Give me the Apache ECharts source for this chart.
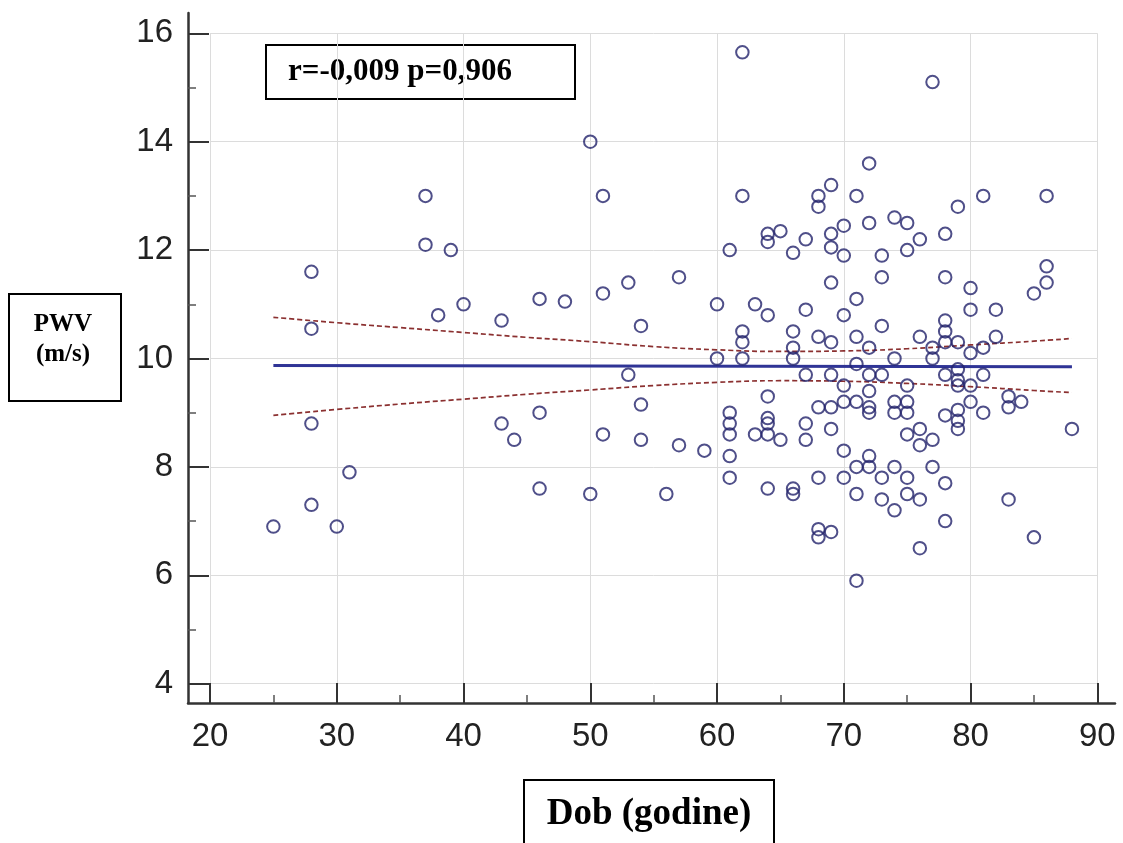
<!DOCTYPE html>
<html>
<head>
<meta charset="utf-8">
<script src="https://cdn.jsdelivr.net/npm/echarts@6/dist/echarts.min.js"></script>
<style>
html,body{margin:0;padding:0;background:#fff;}
#chart{width:1123px;height:843px;}
</style>
</head>
<body>
<div id="chart"></div>
<script>
// Age (Dob, years)
const ages = [
 25,28,30,31,28,28,28,37,37,39,38,40,43,43,44,46,46,46,48,50,50,51,51,51,53,53,54,54,54,56,
 57,57,59,60,60,61,61,61,61,61,61,62,62,62,62,62,63,63,64,64,64,64,64,64,64,64,65,65,
 66,66,66,66,66,66,67,67,67,67,67,68,68,68,68,68,68,68,69,69,69,69,69,69,69,69,69,
 70,70,70,70,70,70,70,
 71,71,71,71,71,71,71,71,
 72,72,72,72,72,72,72,72,72,
 73,73,73,73,73,73,
 74,74,74,74,74,74,
 75,75,75,75,75,75,75,75,
 76,76,76,76,76,76,
 77,77,77,77,77,
 78,78,78,78,78,78,78,78,78,
 79,79,79,79,79,79,79,79,
 80,80,80,80,80,
 81,81,81,81,
 82,82,
 83,83,83,
 84,
 85,85,
 86,86,86,
 88
];
// PWV (m/s)
const pwv = [
 6.9,7.3,6.9,7.9,8.8,10.55,11.6,13.0,12.1,12.0,10.8,11.0,10.7,8.8,8.5,11.1,9.0,7.6,11.05,14.0,7.5,13.0,11.2,8.6,11.4,9.7,10.6,9.15,8.5,7.5,
 11.5,8.4,8.3,11.0,10.0,12.0,9.0,8.8,8.6,8.2,7.8,15.65,13.0,10.5,10.3,10.0,11.0,8.6,12.3,12.15,10.8,9.3,8.9,8.8,8.6,7.6,12.35,8.5,
 11.95,10.5,10.2,10.0,7.6,7.5,12.2,10.9,9.7,8.8,8.5,13.0,12.8,10.4,9.1,7.8,6.85,6.7,13.2,12.3,12.05,11.4,10.3,9.7,9.1,8.7,6.8,
 12.45,11.9,10.8,9.5,9.2,8.3,7.8,
 13.0,11.1,10.4,9.9,9.2,8.0,7.5,5.9,
 13.6,12.5,10.2,9.7,9.4,9.1,9.0,8.2,8.0,
 11.9,11.5,10.6,9.7,7.8,7.4,
 12.6,10.0,9.2,9.0,8.0,7.2,
 12.5,12.0,9.5,9.2,9.0,8.6,7.8,7.5,
 12.2,10.4,8.7,8.4,7.4,6.5,
 15.1,10.2,10.0,8.5,8.0,
 12.3,11.5,10.7,10.5,10.3,9.7,8.95,7.7,7.0,
 12.8,10.3,9.8,9.6,9.5,9.05,8.85,8.7,
 11.3,10.9,10.1,9.5,9.2,
 13.0,10.2,9.7,9.0,
 10.9,10.4,
 9.3,9.1,7.4,
 9.2,
 11.2,6.7,
 13.0,11.7,11.4,
 8.7
];
// Regression line
const fitX = [25, 88];
const fitY = [9.87, 9.85];
// Confidence band
const bandX = [25,30,35,40,45,50,55,60,65,70,75,80,85,88];
const bandUpper = [10.76,10.66,10.57,10.48,10.39,10.31,10.22,10.16,10.13,10.14,10.18,10.25,10.32,10.37];
const bandLower = [8.95,9.06,9.16,9.25,9.34,9.42,9.50,9.56,9.59,9.58,9.54,9.48,9.41,9.37];

const xTicks = {min: 20, max: 90, interval: 10};
const yTicks = {min: 4, max: 16, interval: 2};
const statText = 'r=-0,009 p=0,906';
const yTitle = ['PWV', '(m/s)'];
const xTitle = 'Dob (godine)';

const zip = (a, b) => a.map((v, i) => [v, b[i]]);

const chart = echarts.init(document.getElementById('chart'));
const axisColor = '#333';
const labelFont = {color: '#222', fontSize: 33, fontFamily: 'Liberation Sans, Arial, sans-serif'};

chart.setOption({
  animation: false,
  backgroundColor: '#fff',
  grid: [
    {left: 210, right: 25.7, top: 33.3, bottom: 159.3, containLabel: false, outerBoundsMode: 'none'},
    {left: 188, right: 8, top: 13, bottom: 140, containLabel: false, outerBoundsMode: 'none'}
  ],
  xAxis: [
    {
      type: 'value', gridIndex: 0, position: 'bottom', offset: 19.3,
      min: xTicks.min, max: xTicks.max, interval: xTicks.interval,
      axisLine: {show: false},
      axisTick: {show: true, inside: true, length: 20, lineStyle: {color: axisColor, width: 2}},
      minorTick: {show: true, splitNumber: 2, length: 8, lineStyle: {color: '#555', width: 1.5}},
      axisLabel: Object.assign({margin: 17}, labelFont),
      splitLine: {show: true, lineStyle: {color: '#dcdcdc', width: 1}}
    },
    {
      type: 'value', gridIndex: 1, min: 0, max: 1,
      axisLine: {show: true, onZero: false, lineStyle: {color: axisColor, width: 2.5}},
      axisTick: {show: false}, axisLabel: {show: false}, splitLine: {show: false}
    }
  ],
  yAxis: [
    {
      type: 'value', gridIndex: 0, position: 'left', offset: 22,
      min: yTicks.min, max: yTicks.max, interval: yTicks.interval,
      axisLine: {show: false},
      axisTick: {show: true, inside: true, length: 21, lineStyle: {color: axisColor, width: 2}},
      minorTick: {show: true, splitNumber: 2, length: 8, lineStyle: {color: '#555', width: 1.5}},
      axisLabel: Object.assign({margin: 15}, labelFont),
      splitLine: {show: true, lineStyle: {color: '#dcdcdc', width: 1}}
    },
    {
      type: 'value', gridIndex: 1, min: 0, max: 1,
      axisLine: {show: true, onZero: false, lineStyle: {color: axisColor, width: 2.5}},
      axisTick: {show: false}, axisLabel: {show: false}, splitLine: {show: false}
    }
  ],
  series: [
    {
      type: 'line', xAxisIndex: 0, yAxisIndex: 0, data: zip(bandX, bandUpper),
      showSymbol: false, smooth: true, silent: true, z: 3,
      lineStyle: {color: '#8b3030', width: 1.7, type: [5, 3]}
    },
    {
      type: 'line', xAxisIndex: 0, yAxisIndex: 0, data: zip(bandX, bandLower),
      showSymbol: false, smooth: true, silent: true, z: 3,
      lineStyle: {color: '#8b3030', width: 1.7, type: [5, 3]}
    },
    {
      type: 'line', xAxisIndex: 0, yAxisIndex: 0, data: zip(fitX, fitY),
      showSymbol: false, silent: true, z: 3,
      lineStyle: {color: '#2f3496', width: 3}
    },
    {
      type: 'scatter', xAxisIndex: 0, yAxisIndex: 0, data: zip(ages, pwv),
      symbol: 'circle', symbolSize: 12.5, z: 4,
      itemStyle: {color: 'rgba(0,0,0,0)', borderColor: '#23236b', borderWidth: 2}
    }
  ],
  graphic: [
    {
      type: 'group', left: 265, top: 44, z: 100,
      children: [
        {type: 'rect', shape: {x: 0, y: 0, width: 309, height: 54}, style: {fill: '#fff', stroke: '#000', lineWidth: 2}},
        {type: 'text', x: 22, y: 27, style: {text: statText, fill: '#000', font: 'bold 31px "Liberation Serif", "Times New Roman", serif', verticalAlign: 'middle'}}
      ]
    },
    {
      type: 'group', left: 8, top: 293, z: 100,
      children: [
        {type: 'rect', shape: {x: 0, y: 0, width: 112, height: 107}, style: {fill: '#fff', stroke: '#000', lineWidth: 2}},
        {type: 'text', x: 54, y: 31, style: {text: yTitle[0], fill: '#000', font: 'bold 25px "Liberation Serif", "Times New Roman", serif', align: 'center', verticalAlign: 'middle'}},
        {type: 'text', x: 54, y: 61, style: {text: yTitle[1], fill: '#000', font: 'bold 25px "Liberation Serif", "Times New Roman", serif', align: 'center', verticalAlign: 'middle'}}
      ]
    },
    {
      type: 'group', left: 523, top: 779, z: 100,
      children: [
        {type: 'rect', shape: {x: 0, y: 0, width: 250, height: 80}, style: {fill: '#fff', stroke: '#000', lineWidth: 2}},
        {type: 'text', x: 125, y: 34, style: {text: xTitle, fill: '#000', font: 'bold 37px "Liberation Serif", "Times New Roman", serif', align: 'center', verticalAlign: 'middle'}}
      ]
    }
  ]
});
</script>
</body>
</html>
